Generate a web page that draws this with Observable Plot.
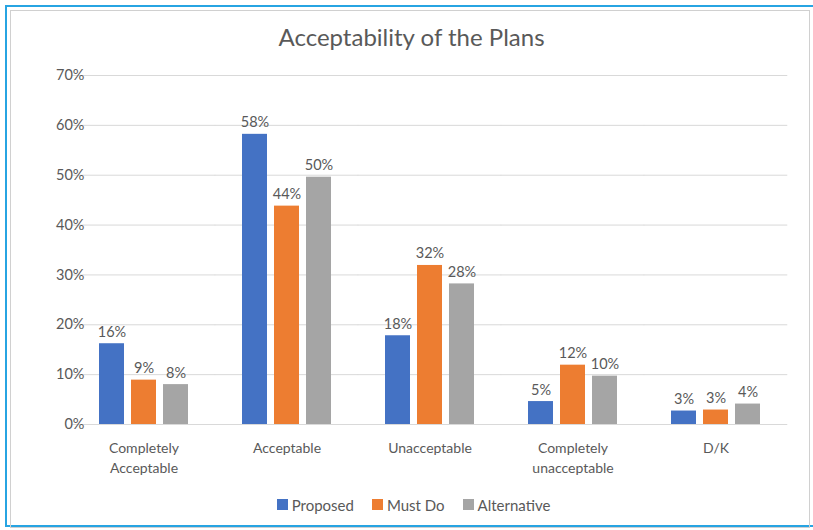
<!DOCTYPE html>
<html>
<head>
<meta charset="utf-8">
<script src="https://cdn.jsdelivr.net/npm/d3@7"></script>
<script src="https://cdn.jsdelivr.net/npm/@observablehq/plot@0.6"></script>
<style>
  html, body { margin: 0; padding: 0; background: #fff; }
  body { width: 813px; height: 530px; position: relative; overflow: hidden; font-family: Lato, "Open Sans", sans-serif; color: #595959; }
  #frame { position: absolute; left: 5px; top: 5px; width: 812px; height: 522px; border: 2px solid #27a4e2; box-sizing: border-box; }
  #inner { position: absolute; left: 10px; top: 10px; width: 800px; height: 518px; border: 1px solid #d0d0d0; box-sizing: border-box; }
  #title { position: absolute; left: 0; top: 22px; width: 823px; text-align: center; font-size: 24px; font-weight: 400; color: #595959; }
  #chart { position: absolute; left: 12px; top: 60px; }
  #legend { position: absolute; left: 11px; top: 488px; width: 823px; display: flex; justify-content: center; }
  #legend span { margin-right: 18px !important; }
  #legend span svg { margin-right: 4px !important; }
</style>
</head>
<body>
<div id="frame"></div>
<div id="inner"></div>
<div id="title">Acceptability of the Plans</div>
<div id="chart"></div>
<div id="legend"></div>
<script>
const categories = ["Completely Acceptable", "Acceptable", "Unacceptable", "Completely unacceptable", "D/K"];
const series = ["Proposed", "Must Do", "Alternative"];
const colors = ["#4472C4", "#ED7D31", "#A5A5A5"];
const proposed    = [0.162, 0.582, 0.178, 0.046, 0.027];
const mustDo      = [0.089, 0.438, 0.319, 0.119, 0.029];
const alternative = [0.080, 0.496, 0.282, 0.097, 0.041];
const yTicks = [0, 0.1, 0.2, 0.3, 0.4, 0.5, 0.6, 0.7];

const valuesBySeries = [proposed, mustDo, alternative];
const data = [];
categories.forEach((c, i) => series.forEach((s, j) => data.push({category: c, series: s, value: valuesBySeries[j][i]})));

const W = 790, ML = 58, MR = 14;
const fxPadIn = 0.38, fxPadOut = 0.19;
const step = (W - ML - MR) / (categories.length - fxPadIn + 2 * fxPadOut);
const gapHalf = step * fxPadIn / 2;
const pct = d3.format(".0%");
const textColor = "#595959";

const chart = Plot.plot({
  width: W,
  height: 424,
  marginLeft: ML,
  marginRight: MR,
  marginTop: 15,
  marginBottom: 60,
  style: {fontFamily: "Lato, 'Open Sans', sans-serif", fontSize: "14px", color: textColor, background: "transparent"},
  fx: {domain: categories, paddingInner: fxPadIn, paddingOuter: fxPadOut, label: null, axis: null},
  x: {domain: series, paddingInner: 0.22, paddingOuter: 0, axis: null},
  y: {domain: [0, 0.7], label: null, axis: null},
  color: {domain: series, range: colors},
  marks: [
    Plot.ruleY(yTicks, {stroke: "#d9d9d9", strokeWidth: 1, insetLeft: -gapHalf, insetRight: -gapHalf}),
    Plot.axisY(yTicks, {tickSize: 0, tickPadding: 15, tickFormat: pct, label: null, fill: textColor, fontSize: 14.5}),
    Plot.barY(data, {fx: "category", x: "series", y: "value", fill: "series"}),
    Plot.text(data, {fx: "category", x: "series", y: "value", text: d => pct(d.value), dy: -7, lineAnchor: "bottom", fill: textColor, fontSize: 14.5}),
    Plot.axisFx({anchor: "bottom", tickSize: 0, tickPadding: 14, label: null, fontSize: 14, fill: textColor, lineHeight: 1.45,
      tickFormat: d => d.replace("Completely ", "Completely\n")})
  ]
});
document.getElementById("chart").appendChild(chart);

const legend = Plot.legend({
  color: {domain: series, range: colors, type: "categorical"},
  swatchSize: 11,
  style: {fontFamily: "Lato, 'Open Sans', sans-serif", fontSize: "15px", color: textColor, marginLeft: "0"}
});
document.getElementById("legend").appendChild(legend);
</script>
</body>
</html>
